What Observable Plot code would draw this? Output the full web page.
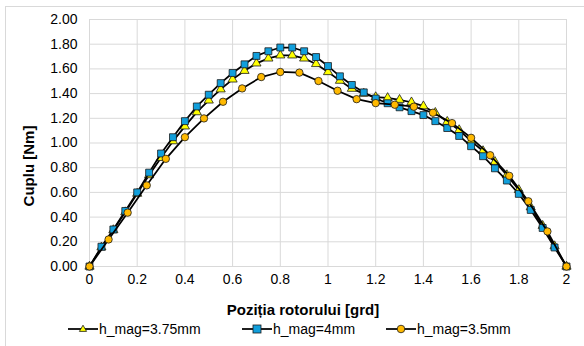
<!DOCTYPE html>
<html>
<head>
<meta charset="utf-8">
<script src="https://cdn.jsdelivr.net/npm/d3@7"></script>
<script src="https://cdn.jsdelivr.net/npm/@observablehq/plot@0.6"></script>
<style>
  html, body { margin: 0; padding: 0; background: #fff; }
  #wrap { position: relative; width: 584px; height: 346px; overflow: hidden; font-family: "Liberation Sans", Arial, sans-serif; }
  #border { position: absolute; left: 5px; top: 6px; width: 600px; height: 400px; border: 1px solid #d9d9d9; box-sizing: border-box; }
  #legend { position: absolute; top: 321px; left: 0; width: 584px; height: 16px; font-size: 14px; color: #000; }
  .item { position: absolute; top: 0; display: flex; align-items: center; white-space: nowrap; line-height: 16px; }
  .item svg { display: block; }
</style>
</head>
<body>
<div id="wrap"><div id="border"></div></div>
<script>
// Series names
const seriesNames = ["h_mag=3.75mm", "h_mag=4mm", "h_mag=3.5mm"];

// h_mag=3.75mm (triangles), x step 0.05
const xTri = [0,0.05,0.1,0.15,0.2,0.25,0.3,0.35,0.4,0.45,0.5,0.55,0.6,0.65,0.7,0.75,0.8,0.85,0.9,0.95,1.0,1.05,1.1,1.15,1.2,1.25,1.3,1.35,1.4,1.45,1.5,1.55,1.6,1.65,1.7,1.75,1.8,1.85,1.9,1.95,2.0];
const yTri = [0,0.155,0.295,0.44,0.59,0.74,0.88,1.015,1.135,1.25,1.345,1.435,1.515,1.585,1.645,1.685,1.71,1.71,1.685,1.64,1.575,1.505,1.44,1.40,1.372,1.365,1.35,1.33,1.298,1.245,1.172,1.105,1.015,0.935,0.848,0.74,0.62,0.48,0.33,0.165,0];

// h_mag=4mm (squares), x step 0.05
const xSq = [0,0.05,0.1,0.15,0.2,0.25,0.3,0.35,0.4,0.45,0.5,0.55,0.6,0.65,0.7,0.75,0.8,0.85,0.9,0.95,1.0,1.05,1.1,1.15,1.2,1.25,1.3,1.35,1.4,1.45,1.5,1.55,1.6,1.65,1.7,1.75,1.8,1.85,1.9,1.95,2.0];
const ySq = [0,0.16,0.30,0.45,0.60,0.76,0.915,1.047,1.177,1.296,1.391,1.485,1.567,1.637,1.705,1.743,1.773,1.773,1.743,1.696,1.623,1.54,1.47,1.41,1.36,1.322,1.289,1.258,1.226,1.177,1.121,1.057,0.974,0.893,0.795,0.696,0.588,0.458,0.312,0.154,0];

// h_mag=3.5mm (circles), x step 0.08
const xCirc = [0,0.08,0.16,0.24,0.32,0.4,0.48,0.56,0.64,0.72,0.8,0.88,0.96,1.04,1.12,1.2,1.28,1.36,1.44,1.52,1.6,1.68,1.76,1.84,1.92,2.0];
const yCirc = [0,0.219,0.436,0.657,0.872,1.047,1.199,1.334,1.442,1.534,1.575,1.57,1.502,1.423,1.355,1.323,1.31,1.294,1.245,1.161,1.042,0.901,0.734,0.528,0.284,0];

// Axis ticks
const xTicks = [0,0.2,0.4,0.6,0.8,1,1.2,1.4,1.6,1.8,2];
const yTicks = [0,0.2,0.4,0.6,0.8,1.0,1.2,1.4,1.6,1.8,2.0];

const xLabel = "Poziția rotorului [grd]";
const yLabel = "Cuplu [Nm]";

const styles = [
  {symbol: "triangle", fill: "#ffff00", r: 3.4},
  {symbol: "square", fill: "#119fdc", r: 3.9},
  {symbol: "circle", fill: "#ffb900", r: 3.7}
];
const seriesData = [
  xTri.map((x, i) => ({x, y: yTri[i]})),
  xSq.map((x, i) => ({x, y: ySq[i]})),
  xCirc.map((x, i) => ({x, y: yCirc[i]}))
];

const marks = [
  Plot.gridX(xTicks, {stroke: "#d9d9d9", strokeOpacity: 1, strokeWidth: 1}),
  Plot.gridY(yTicks, {stroke: "#d9d9d9", strokeOpacity: 1, strokeWidth: 1}),
  Plot.axisX(xTicks, {tickSize: 0, tickPadding: 8, fontSize: 14, tickFormat: d => String(d), label: null}),
  Plot.axisY(yTicks, {tickSize: 0, tickPadding: 12, fontSize: 14, tickFormat: d => d.toFixed(2), label: null}),
];
seriesData.forEach((data, k) => {
  marks.push(Plot.line(data, {x: "x", y: "y", stroke: "#000", strokeWidth: 1.75}));
  marks.push(Plot.dot(data, {x: "x", y: "y", symbol: () => styles[k].symbol, r: styles[k].r, fill: styles[k].fill, stroke: "#1a1a1a", strokeWidth: 0.8}));
});

const chart = Plot.plot({
  width: 584,
  height: 346,
  marginLeft: 89,
  marginRight: 18,
  marginTop: 19,
  marginBottom: 80,
  style: {fontFamily: "'Liberation Sans', Arial, sans-serif", fontSize: "14px", background: "transparent", color: "#000"},
  x: {domain: [0, 2]},
  y: {domain: [0, 2]},
  symbol: {type: "identity"},
  marks
});
chart.style.position = "absolute";
chart.style.left = "0";
chart.style.top = "0";

// Axis titles
const ns = "http://www.w3.org/2000/svg";
const xt = document.createElementNS(ns, "text");
xt.setAttribute("x", 303); xt.setAttribute("y", 315);
xt.setAttribute("text-anchor", "middle");
xt.setAttribute("font-weight", "bold"); xt.setAttribute("font-size", "15");
xt.textContent = xLabel;
chart.appendChild(xt);
const yt = document.createElementNS(ns, "text");
yt.setAttribute("transform", "translate(34,166) rotate(-90)");
yt.setAttribute("text-anchor", "middle");
yt.setAttribute("font-weight", "bold"); yt.setAttribute("font-size", "15");
yt.textContent = yLabel;
chart.appendChild(yt);

const wrap = document.getElementById("wrap");
wrap.appendChild(chart);

// Legend
const legend = document.createElement("div");
legend.id = "legend";
const lefts = [68, 242, 386];
const sym = {
  triangle: '<path d="M15,3.2 L18.6,9.4 L11.4,9.4 Z"/>',
  square: '<rect x="11" y="3" width="8" height="8"/>',
  circle: '<circle cx="15" cy="7" r="3.8"/>'
};
seriesNames.forEach((name, k) => {
  const it = document.createElement("div");
  it.className = "item";
  it.style.left = lefts[k] + "px";
  it.innerHTML = `<svg width="30" height="14"><line x1="0" x2="30" y1="7" y2="7" stroke="#000" stroke-width="1.75"/><g fill="${styles[k].fill}" stroke="#1a1a1a" stroke-width="0.8">${sym[styles[k].symbol]}</g></svg><span style="margin-left:1px">${name}</span>`;
  legend.appendChild(it);
});
wrap.appendChild(legend);
</script>
</body>
</html>
